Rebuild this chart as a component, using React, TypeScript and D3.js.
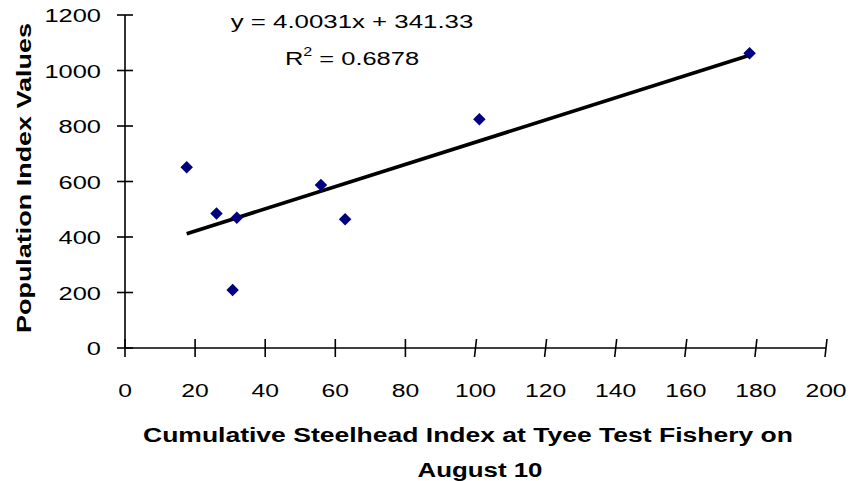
import React from "react";
import * as d3 from "d3";

const xValues = [17.6, 26.1, 31.9, 30.7, 55.9, 62.8, 101.1, 178.2];
const yValues = [651, 485, 469, 209, 587, 464, 824, 1062];
const xTicks = [0, 20, 40, 60, 80, 100, 120, 140, 160, 180, 200];
const yTicks = [0, 200, 400, 600, 800, 1000, 1200];
const slope = 4.0031;
const intercept = 341.33;
const equationText = "y = 4.0031x + 341.33";
const r2Value = "0.6878";
const xTitle1 = "Cumulative Steelhead Index at Tyee Test Fishery on";
const xTitle2 = "August 10";
const yTitle = "Population Index Values";

const W = 855;
const H = 481;
const FONT = "'Liberation Sans', Arial, sans-serif";
const SX = 1.3;

function SText({ x, y, anchor = "middle", size = 19, sx = SX, children, weight = "normal" }: any) {
  return (
    <g transform={`translate(${x},${y}) scale(${sx},1)`}>
      <text x={0} y={0} textAnchor={anchor} fontSize={size} fontFamily={FONT} fontWeight={weight} fill="#000">
        {children}
      </text>
    </g>
  );
}

export default function App() {
  const x = d3.scaleLinear().domain([0, 200]).range([125, 826]);
  const y = d3.scaleLinear().domain([0, 1200]).range([348, 15]);
  const xmin = d3.min(xValues)!;
  const xmax = d3.max(xValues)!;
  const line = d3.line<number>().x((d) => x(d)).y((d) => y(slope * d + intercept));
  const diamond = d3.symbol().type(d3.symbolSquare).size(78)();

  return (
    <svg width={W} height={H} style={{ position: "absolute", left: 0, top: 0, background: "#fff" }}>
      <rect x={0} y={0} width={W} height={H} fill="#fff" />
      {/* axes */}
      <line x1={x(0)} x2={x(0)} y1={y(1200)} y2={y(0)} stroke="#000" strokeWidth={1.6} />
      <line x1={x(0)} x2={x(200)} y1={y(0)} y2={y(0)} stroke="#000" strokeWidth={1.6} />
      {yTicks.map((t) => (
        <g key={"yt" + t}>
          <line x1={x(0) - 8} x2={x(0) + 8} y1={y(t)} y2={y(t)} stroke="#000" strokeWidth={1.6} />
          <SText x={101} y={y(t) + 7} anchor="end" sx={1.34}>{t}</SText>
        </g>
      ))}
      {xTicks.map((t) => (
        <g key={"xt" + t}>
          <line x1={x(t) - (t >= 100 ? 1 : 0)} x2={x(t) + (t >= 100 ? 1 : 0)} y1={y(0) + 9} y2={y(0) - 9} stroke="#000" strokeWidth={1.6} />
          <SText x={x(t)} y={397}>{t}</SText>
        </g>
      ))}
      {/* trend line */}
      <path d={line([xmin, xmax])!} stroke="#000" strokeWidth={3.6} fill="none" />
      {/* points */}
      {xValues.map((v, i) => (
        <path key={"p" + i} d={diamond} transform={`translate(${x(v)},${y(yValues[i])}) rotate(45)`} fill="#000080" />
      ))}
      {/* equation */}
      <SText x={352} y={28} sx={1.36}>{equationText}</SText>
      <g transform={`translate(352,65) scale(1.34,1)`}>
        <text x={0} y={0} textAnchor="middle" fontSize={19} fontFamily={FONT} fill="#000">
          R<tspan fontSize={12} dy={-9}>2</tspan>
          <tspan dy={9}>{" = " + r2Value}</tspan>
        </text>
      </g>
      {/* titles */}
      <text x={468} y={442} textAnchor="middle" fontSize={20} fontWeight="bold" fontFamily={FONT} textLength={650} lengthAdjust="spacingAndGlyphs">
        {xTitle1}
      </text>
      <text x={480} y={477} textAnchor="middle" fontSize={20} fontWeight="bold" fontFamily={FONT} textLength={125} lengthAdjust="spacingAndGlyphs">
        {xTitle2}
      </text>
      <text transform={`translate(31,178) rotate(-90)`} textAnchor="middle" fontSize={20} fontWeight="bold" fontFamily={FONT} textLength={310} lengthAdjust="spacingAndGlyphs">
        {yTitle}
      </text>
    </svg>
  );
}
